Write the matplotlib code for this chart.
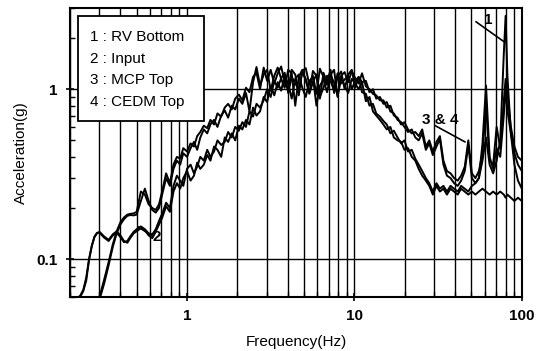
import matplotlib
matplotlib.use("Agg")
import matplotlib.pyplot as plt
from matplotlib.patches import Rectangle
from matplotlib.ticker import LogLocator, NullFormatter, FixedLocator, FixedFormatter

plt.rcParams['font.family'] = ['Liberation Sans', 'DejaVu Sans']

# frequency points (Hz), shared by every series
freq = [0.20, 0.21, 0.22, 0.23, 0.24, 0.25, 0.26, 0.27, 0.28, 0.29,
        0.30, 0.32, 0.34, 0.36, 0.38, 0.40, 0.42, 0.44, 0.46, 0.48,
        0.50, 0.53, 0.56, 0.59, 0.62, 0.65, 0.68, 0.71, 0.75, 0.79,
        0.83, 0.87, 0.91, 0.95, 1.00, 1.05, 1.10, 1.15, 1.20, 1.26,
        1.32, 1.38, 1.45, 1.52, 1.60, 1.68, 1.76, 1.85, 1.94, 2.04,
        2.14, 2.25, 2.36, 2.48, 2.60, 2.73, 2.87, 3.01, 3.16, 3.32,
        3.48, 3.65, 3.83, 4.02, 4.22, 4.43, 4.65, 4.88, 5.12, 5.38,
        5.65, 5.93, 6.22, 6.53, 6.86, 7.20, 7.56, 7.93, 8.33, 8.74,
        9.18, 9.64, 10.1, 10.6, 11.1, 11.7, 12.3, 12.9, 13.5, 14.2,
        14.9, 15.6, 16.4, 17.2, 18.1, 19.0, 19.9, 20.9, 22.0, 23.1,
        24.2, 25.4, 26.7, 28.0, 29.4, 30.9, 32.4, 34.0, 35.7, 37.5,
        39.4, 41.4, 43.4, 45.6, 47.9, 50.3, 52.8, 55.4, 58.2, 61.1,
        64.2, 67.4, 70.7, 74.3, 78.0, 80.0, 82.0, 86.0, 90.3, 94.8,
        100.0]

# 1 : RV Bottom
rv_bottom = [0.055, 0.057, 0.059, 0.061, 0.066, 0.078, 0.100, 0.120, 0.136, 0.143,
             0.143, 0.134, 0.128, 0.138, 0.143, 0.135, 0.126, 0.128, 0.137, 0.145,
             0.150, 0.156, 0.150, 0.142, 0.140, 0.150, 0.168, 0.185, 0.215, 0.200,
             0.27, 0.31, 0.29, 0.27, 0.34, 0.36, 0.32, 0.35, 0.40, 0.38,
             0.44, 0.40, 0.43, 0.50, 0.47, 0.49, 0.56, 0.52, 0.60, 0.57,
             0.64, 0.60, 0.74, 0.69, 0.82, 0.78, 0.86, 1.00, 0.90, 1.12,
             1.02, 1.16, 1.25, 0.95, 1.18, 1.08, 1.00, 1.26, 1.15, 0.94,
             1.10, 1.22, 0.90, 1.02, 1.20, 1.12, 0.98, 1.24, 1.08, 1.14,
             1.20, 1.00, 1.12, 1.18, 0.96, 0.94, 0.80, 0.82, 0.72, 0.69,
             0.65, 0.62, 0.55, 0.57, 0.52, 0.48, 0.50, 0.43, 0.44, 0.39,
             0.36, 0.33, 0.30, 0.28, 0.25, 0.28, 0.26, 0.27, 0.25, 0.27,
             0.26, 0.25, 0.27, 0.26, 0.25, 0.27, 0.28, 0.30, 0.38, 0.52,
             0.36, 0.32, 0.38, 0.50, 1.60, 2.70, 1.20, 0.55, 0.36, 0.29,
             0.26]

# 2 : Input
inp = [0.055, 0.057, 0.059, 0.060, 0.065, 0.075, 0.100, 0.120, 0.135, 0.142,
       0.145, 0.136, 0.130, 0.140, 0.146, 0.138, 0.128, 0.125, 0.134, 0.142,
       0.146, 0.152, 0.148, 0.138, 0.133, 0.145, 0.160, 0.175, 0.205, 0.190,
       0.25, 0.28, 0.26, 0.30, 0.33, 0.29, 0.31, 0.37, 0.34, 0.36,
       0.41, 0.38, 0.46, 0.44, 0.40, 0.52, 0.49, 0.55, 0.50, 0.61,
       0.58, 0.66, 0.62, 0.78, 0.70, 0.74, 0.90, 0.84, 1.05, 0.92,
       1.10, 0.98, 1.20, 1.08, 0.88, 1.15, 1.22, 1.02, 0.90, 1.12,
       1.18, 0.80, 1.05, 1.14, 0.96, 1.20, 1.10, 0.92, 1.16, 1.05,
       0.95, 1.15, 1.08, 1.00, 1.10, 0.85, 0.90, 0.74, 0.70, 0.66,
       0.62, 0.58, 0.60, 0.52, 0.50, 0.49, 0.44, 0.45, 0.40, 0.38,
       0.34, 0.31, 0.29, 0.27, 0.24, 0.27, 0.25, 0.26, 0.24, 0.26,
       0.25, 0.24, 0.26, 0.25, 0.24, 0.25, 0.24, 0.25, 0.26, 0.25,
       0.24, 0.25, 0.24, 0.25, 0.24, 0.23, 0.24, 0.23, 0.22, 0.23,
       0.22]

# 3 : MCP Top
mcp_top = [0.05, 0.05, 0.05, 0.05, 0.05, 0.05, 0.05, 0.05, 0.05, 0.052,
           0.058, 0.072, 0.092, 0.118, 0.142, 0.160, 0.172, 0.180, 0.182, 0.181,
           0.183, 0.22, 0.26, 0.22, 0.195, 0.188, 0.20, 0.24, 0.30, 0.27,
           0.34, 0.38, 0.36, 0.42, 0.40, 0.45, 0.49, 0.44, 0.52, 0.58,
           0.55, 0.62, 0.66, 0.60, 0.70, 0.75, 0.68, 0.80, 0.76, 0.88,
           0.82, 0.95, 0.74, 1.10, 1.35, 1.05, 1.22, 1.30, 0.98, 1.20,
           1.34, 1.15, 1.02, 1.30, 1.24, 0.80, 1.18, 1.30, 1.12, 0.96,
           1.28, 1.20, 0.88, 1.25, 1.10, 1.30, 0.95, 1.18, 1.27, 1.00,
           1.22, 1.30, 1.02, 1.18, 1.10, 1.12, 0.96, 1.00, 0.88, 0.90,
           0.82, 0.84, 0.74, 0.72, 0.66, 0.64, 0.60, 0.56, 0.58, 0.52,
           0.50, 0.55, 0.44, 0.48, 0.41, 0.46, 0.51, 0.36, 0.31, 0.30,
           0.28, 0.27, 0.29, 0.33, 0.47, 0.30, 0.28, 0.30, 0.48, 1.05,
           0.40, 0.34, 0.45, 0.40, 0.70, 1.00, 0.75, 0.55, 0.42, 0.36,
           0.33]

# 4 : CEDM Top
cedm_top = [0.05, 0.05, 0.05, 0.05, 0.05, 0.05, 0.05, 0.05, 0.05, 0.052,
            0.060, 0.076, 0.096, 0.122, 0.146, 0.165, 0.176, 0.183, 0.185, 0.186,
            0.19, 0.25, 0.24, 0.21, 0.20, 0.195, 0.21, 0.25, 0.32, 0.28,
            0.36, 0.40, 0.39, 0.45, 0.43, 0.48, 0.46, 0.53, 0.56, 0.61,
            0.59, 0.66, 0.62, 0.72, 0.69, 0.78, 0.82, 0.76, 0.88, 0.93,
            0.86, 1.02, 0.96, 1.18, 1.25, 1.00, 1.34, 1.12, 1.30, 1.08,
            1.24, 1.36, 1.10, 1.00, 1.30, 1.22, 0.92, 1.28, 1.33, 1.06,
            1.20, 0.94, 1.32, 1.18, 1.06, 1.22, 1.30, 0.90, 1.20, 1.26,
            1.10, 1.28, 1.16, 1.08, 1.24, 1.04, 1.00, 0.94, 0.92, 0.86,
            0.86, 0.78, 0.80, 0.70, 0.68, 0.62, 0.64, 0.58, 0.55, 0.56,
            0.53, 0.58, 0.46, 0.50, 0.43, 0.49, 0.53, 0.38, 0.33, 0.32,
            0.30, 0.29, 0.31, 0.35, 0.50, 0.32, 0.30, 0.33, 0.42, 0.80,
            0.38, 0.36, 0.60, 0.45, 0.85, 1.15, 0.95, 0.60, 0.46, 0.40,
            0.38]

legend_labels = ["1 : RV Bottom", "2 : Input", "3 : MCP Top", "4 : CEDM Top"]
xtick_vals = [1, 10, 100]
xtick_labels = ["1", "10", "100"]
ytick_vals = [0.1, 1]
ytick_labels = ["0.1", "1"]

fig = plt.figure(figsize=(5.47, 3.51), dpi=100)
ax = fig.add_axes([0.128, 0.154, 0.826, 0.823])

for series in [inp, rv_bottom, mcp_top, cedm_top]:
    ax.plot(freq, series, color="black", lw=1.4, zorder=3)

ax.set_xscale("log")
ax.set_yscale("log")
ax.set_xlim(0.2, 100)
ax.set_ylim(0.06, 3.0)

# grid: vertical lines at every decade subdivision, horizontal at decades only
ax.xaxis.set_major_locator(FixedLocator(xtick_vals))
ax.xaxis.set_major_formatter(FixedFormatter(xtick_labels))
ax.xaxis.set_minor_locator(LogLocator(base=10, subs=range(2, 10)))
ax.xaxis.set_minor_formatter(NullFormatter())
ax.yaxis.set_major_locator(FixedLocator(ytick_vals))
ax.yaxis.set_major_formatter(FixedFormatter(ytick_labels))
ax.yaxis.set_minor_locator(LogLocator(base=10, subs=range(2, 10)))
ax.yaxis.set_minor_formatter(NullFormatter())
ax.grid(True, which="both", axis="x", color="black", lw=1.0)
ax.grid(True, which="major", axis="y", color="black", lw=1.0)

ax.tick_params(axis="both", which="major", direction="inout", length=6, width=1.2,
               labelsize=11, pad=6)
ax.tick_params(axis="both", which="minor", direction="in", length=3.5, width=1.0)
for lab in ax.get_xticklabels() + ax.get_yticklabels():
    lab.set_fontweight("bold")
for s in ax.spines.values():
    s.set_linewidth(1.5)

ax.set_xlabel("Frequency(Hz)", fontsize=11, labelpad=8)
ax.set_ylabel("Acceleration(g)", fontsize=11, labelpad=6)

# legend box
ax.add_patch(Rectangle((0.018, 0.609), 0.279, 0.363, transform=ax.transAxes,
                       facecolor="white", edgecolor="black", lw=1.3, zorder=5))
for i, lab in enumerate(legend_labels):
    ax.text(0.044, 0.900 - 0.075 * i, lab, transform=ax.transAxes, fontsize=11,
            va="center", ha="left", zorder=6)

# curve annotations
ax.plot([53.3, 78.4], [2.49, 1.90], color="black", lw=1.2, zorder=4)
ax.text(63, 2.55, "1", fontsize=11, fontweight="bold", ha="center", va="center")
ax.plot([30.4, 45.7], [0.61, 0.49], color="black", lw=1.2, zorder=4)
ax.text(32.5, 0.66, "3 & 4", fontsize=11, fontweight="bold", ha="center", va="center")
ax.plot([0.51, 0.62], [0.155, 0.137], color="black", lw=1.2, zorder=4)
ax.text(0.66, 0.135, "2", fontsize=11, fontweight="bold", ha="center", va="center")

fig.savefig("out.png", dpi=100)
